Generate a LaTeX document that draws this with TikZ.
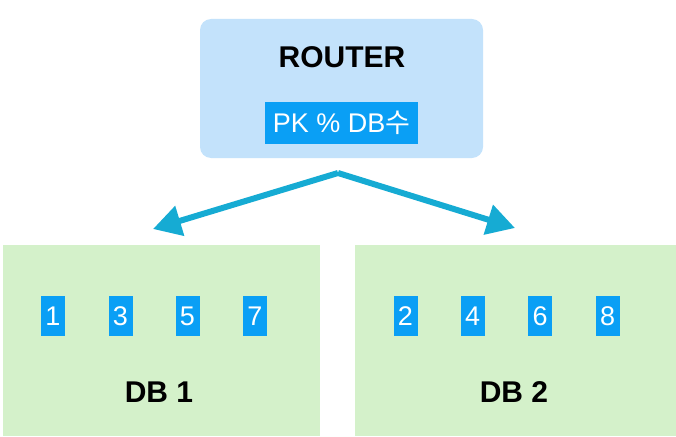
\documentclass[tikz,border=0pt]{standalone}
\usepackage{fontspec}
\setmainfont{Liberation Sans}
\newfontfamily\krfont{Noto Sans CJK KR}
\usetikzlibrary{arrows.meta}
\definecolor{routerfill}{HTML}{C3E2FB}
\definecolor{tagblue}{HTML}{0A9FF5}
\definecolor{dbgreen}{HTML}{D4F1CA}
\definecolor{arrowcyan}{HTML}{16ABD3}
\tikzset{
  routerbox/.style={draw=none, fill=routerfill, rounded corners=11pt, inner sep=0pt},
  dbbox/.style={draw=none, fill=dbgreen, inner sep=0pt},
  tag/.style={fill=tagblue, text=white, inner sep=0pt, font=\fontsize{27}{30}\selectfont},
  numtag/.style={tag, minimum width=24pt, minimum height=40pt},
  title/.style={font=\fontsize{30}{34}\selectfont\bfseries, text=black, inner sep=0pt},
  flow/.style={draw=arrowcyan, line width=6pt, -{Triangle[length=28pt,width=30pt]}, line join=round}
}
\begin{document}
\begin{tikzpicture}[x=1pt,y=-1pt]
\useasboundingbox (0,0) rectangle (676,436);
% router
\path[routerbox] (200,19) rectangle (483,158);
\node[title] (router) at (342,57) {ROUTER};
\node[tag, minimum width=153pt, minimum height=42pt] (rule) at (341.5,123) {PK \% DB{\krfont 수}};
% db boxes
\path[dbbox] (3,245) rectangle (320,436);
\path[dbbox] (355,245) rectangle (676,436);
\node[title] (db1) at (159,392) {DB 1};
\node[title] (db2) at (514,392) {DB 2};
% numbers
\node[numtag] (n1) at (53,316) {1};
\node[numtag] (n3) at (120.5,316) {3};
\node[numtag] (n5) at (187.5,316) {5};
\node[numtag] (n7) at (255,316) {7};
\node[numtag] (n2) at (405.5,316) {2};
\node[numtag] (n4) at (472.5,316) {4};
\node[numtag] (n6) at (540,316) {6};
\node[numtag] (n8) at (607.5,316) {8};
% arrows
\coordinate (apex) at (338,173);
\coordinate (tipL) at (153,229);
\coordinate (tipR) at (515,228);
\draw[flow] (apex) -- (tipL);
\draw[flow] (apex) -- (tipR);
\end{tikzpicture}
\end{document}
